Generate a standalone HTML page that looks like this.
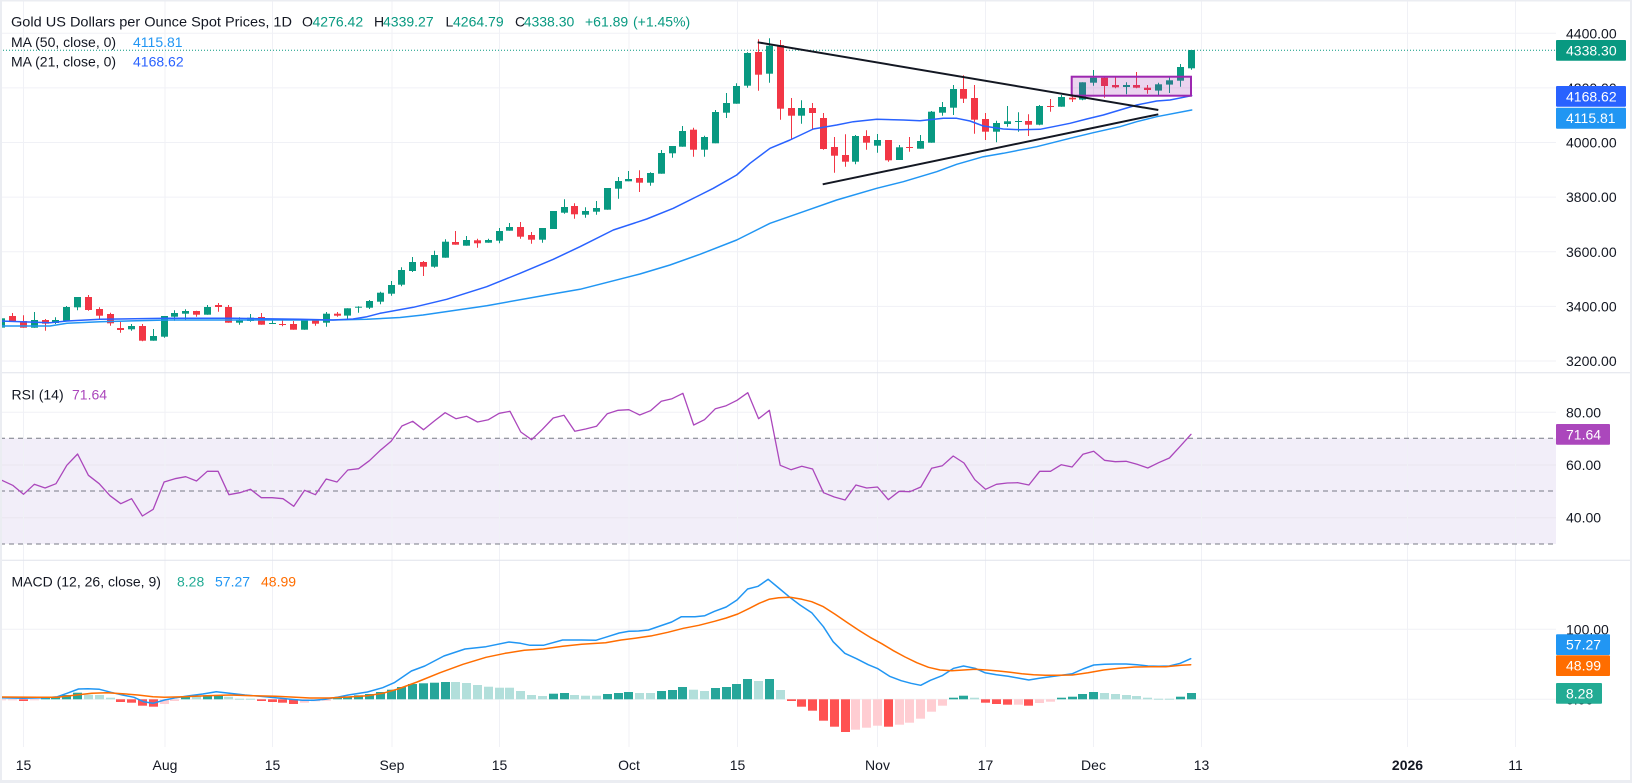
<!DOCTYPE html>
<html><head><meta charset="utf-8">
<style>
html,body{margin:0;padding:0;background:#fff;}
svg{display:block;font-family:"Liberation Sans",sans-serif;}
.t{font-size:14px;fill:#131722;}
.w{font-size:14px;fill:#ffffff;}
</style></head><body>
<svg id="c" width="1632" height="783" xmlns="http://www.w3.org/2000/svg">
<rect width="1632" height="783" fill="#fff"/>
<!-- RSI band -->
<rect x="0" y="438.3" width="1556" height="105.7" fill="#F2EEF9"/>
<!-- grid -->
<g stroke="#F0F1F6" stroke-width="1" fill="none">
<line x1="0" y1="33.3" x2="1556" y2="33.3"/>
<line x1="0" y1="87.9" x2="1556" y2="87.9"/>
<line x1="0" y1="142.5" x2="1556" y2="142.5"/>
<line x1="0" y1="197.1" x2="1556" y2="197.1"/>
<line x1="0" y1="251.8" x2="1556" y2="251.8"/>
<line x1="0" y1="306.4" x2="1556" y2="306.4"/>
<line x1="0" y1="361" x2="1556" y2="361"/>
<line x1="0" y1="412.3" x2="1556" y2="412.3"/>
<line x1="0" y1="465" x2="1556" y2="465" stroke="#E9E6F0"/>
<line x1="0" y1="517.7" x2="1556" y2="517.7" stroke="#E9E6F0"/>
<line x1="0" y1="629.3" x2="1556" y2="629.3"/>
<line x1="0" y1="699.3" x2="1556" y2="699.3"/>
<line x1="23.5" y1="0" x2="23.5" y2="747"/>
<line x1="165" y1="0" x2="165" y2="747"/>
<line x1="272.5" y1="0" x2="272.5" y2="747"/>
<line x1="392" y1="0" x2="392" y2="747"/>
<line x1="499.5" y1="0" x2="499.5" y2="747"/>
<line x1="629" y1="0" x2="629" y2="747"/>
<line x1="737.5" y1="0" x2="737.5" y2="747"/>
<line x1="877.5" y1="0" x2="877.5" y2="747"/>
<line x1="985.5" y1="0" x2="985.5" y2="747"/>
<line x1="1093.5" y1="0" x2="1093.5" y2="747"/>
<line x1="1201.5" y1="0" x2="1201.5" y2="747"/>
<line x1="1407.5" y1="0" x2="1407.5" y2="747"/>
<line x1="1515.5" y1="0" x2="1515.5" y2="747"/>
</g>
<!-- RSI dashed -->
<g stroke="#787B86" stroke-width="1" stroke-dasharray="5,4">
<line x1="0" y1="438.3" x2="1556" y2="438.3"/>
<line x1="0" y1="491" x2="1556" y2="491"/>
<line x1="0" y1="544" x2="1556" y2="544"/>
</g>
<!-- pane separators -->
<line x1="0" y1="372.7" x2="1632" y2="372.7" stroke="#E0E3EB" stroke-width="1"/>
<line x1="0" y1="560.3" x2="1632" y2="560.3" stroke="#E0E3EB" stroke-width="1"/>
<!-- price dotted line -->
<line x1="0" y1="50.2" x2="1556" y2="50.2" stroke="#089981" stroke-width="1" stroke-dasharray="1,2"/>
<g id="plot"></g>
<!-- drawings -->
<rect x="1071.7" y="76.7" width="119.3" height="19" fill="rgba(156,39,176,0.2)" stroke="#9C27B0" stroke-width="2"/>
<line x1="757.7" y1="42.3" x2="1158.3" y2="110" stroke="#131722" stroke-width="2"/>
<line x1="822.7" y1="184.3" x2="1158.3" y2="114.3" stroke="#131722" stroke-width="2"/>

<!-- legends -->
<text class="t" x="11" y="26.5" textLength="281" lengthAdjust="spacingAndGlyphs">Gold US Dollars per Ounce Spot Prices, 1D</text>
<text class="t" x="302" y="26.5">O</text><text class="t" x="312.5" y="26.5" style="fill:#089981">4276.42</text>
<text class="t" x="374" y="26.5">H</text><text class="t" x="383" y="26.5" style="fill:#089981">4339.27</text>
<text class="t" x="445.5" y="26.5">L</text><text class="t" x="453" y="26.5" style="fill:#089981">4264.79</text>
<text class="t" x="515" y="26.5">C</text><text class="t" x="523.7" y="26.5" style="fill:#089981">4338.30</text>
<text class="t" x="585" y="26.5" style="fill:#089981">+61.89</text>
<text class="t" x="633" y="26.5" style="fill:#089981">(+1.45%)</text>
<text class="t" x="11" y="47">MA (50, close, 0)</text><text class="t" x="133" y="47" style="fill:#2196F3">4115.81</text>
<text class="t" x="11" y="66.7">MA (21, close, 0)</text><text class="t" x="133" y="66.7" style="fill:#2962FF">4168.62</text>
<text class="t" x="11.5" y="399.5">RSI (14)</text><text class="t" x="72" y="399.5" style="fill:#AB47BC">71.64</text>
<text class="t" x="11.5" y="586.7">MACD (12, 26, close, 9)</text>
<text class="t" x="177" y="586.7" style="fill:#22AB94">8.28</text>
<text class="t" x="215" y="586.7" style="fill:#2196F3">57.27</text>
<text class="t" x="261" y="586.7" style="fill:#FF6D00">48.99</text>

<!-- price axis -->
<text class="t" x="1566" y="38.3">4400.00</text>
<text class="t" x="1566" y="92.9">4200.00</text>
<text class="t" x="1566" y="147.5">4000.00</text>
<text class="t" x="1566" y="202.1">3800.00</text>
<text class="t" x="1566" y="256.8">3600.00</text>
<text class="t" x="1566" y="311.4">3400.00</text>
<text class="t" x="1566" y="366">3200.00</text>
<rect x="1556" y="40" width="70" height="20.7" rx="1" fill="#089981"/>
<text class="w" x="1566" y="55.3">4338.30</text>
<rect x="1556" y="86" width="70" height="20.7" rx="1" fill="#2962FF"/>
<text class="w" x="1566" y="101.3">4168.62</text>
<rect x="1556" y="107.7" width="70" height="21" rx="1" fill="#2196F3"/>
<text class="w" x="1566" y="123">4115.81</text>

<text class="t" x="1566" y="417.3">80.00</text>
<text class="t" x="1566" y="470">60.00</text>
<text class="t" x="1566" y="522.7">40.00</text>
<rect x="1556" y="424" width="54" height="20.7" rx="1" fill="#AB47BC"/>
<text class="w" x="1566" y="439.3">71.64</text>

<text class="t" x="1566" y="634.3">100.00</text>
<text class="t" x="1566" y="704.3">0.00</text>
<rect x="1556" y="634.3" width="54" height="20.7" rx="1" fill="#2196F3"/>
<text class="w" x="1566" y="649.6">57.27</text>
<rect x="1556" y="655.3" width="54" height="20.7" rx="1" fill="#FF6D00"/>
<text class="w" x="1566" y="670.6">48.99</text>
<rect x="1556" y="683" width="46" height="20.7" rx="1" fill="#22AB94"/>
<text class="w" x="1566" y="698.3">8.28</text>

<!-- time axis -->
<g class="t" text-anchor="middle">
<text class="t" x="23.5" y="770" text-anchor="middle">15</text>
<text class="t" x="165" y="770" text-anchor="middle">Aug</text>
<text class="t" x="272.5" y="770" text-anchor="middle">15</text>
<text class="t" x="392" y="770" text-anchor="middle">Sep</text>
<text class="t" x="499.5" y="770" text-anchor="middle">15</text>
<text class="t" x="629" y="770" text-anchor="middle">Oct</text>
<text class="t" x="737.5" y="770" text-anchor="middle">15</text>
<text class="t" x="877.5" y="770" text-anchor="middle">Nov</text>
<text class="t" x="985.5" y="770" text-anchor="middle">17</text>
<text class="t" x="1093.5" y="770" text-anchor="middle">Dec</text>
<text class="t" x="1201.5" y="770" text-anchor="middle">13</text>
<text class="t" x="1407.5" y="770" text-anchor="middle" font-weight="bold">2026</text>
<text class="t" x="1515.5" y="770" text-anchor="middle">11</text>
</g>
<!-- frame -->
<rect x="0" y="0" width="1632" height="1.5" fill="#EBEDF2"/>
<rect x="0" y="0" width="2" height="783" fill="#EBEDF2"/>
<rect x="1630" y="0" width="2" height="783" fill="#EBEDF2"/>
<rect x="0" y="780" width="1632" height="3" fill="#EBEDF2"/>
</svg>
<script>
(function(){
var NS='http://www.w3.org/2000/svg';
var plot=document.getElementById('plot');
function el(t,a){var e=document.createElementNS(NS,t);for(var k in a)e.setAttribute(k,a[k]);plot.appendChild(e);return e;}
function X(i){return 1.9+10.81*i;}
var G='#089981',R='#F23645';
var A=[[1,205,233,196,233],[0,198,215,189,215],[0,213,233,196,233],[1,210,233,186,233],[0,210,221,207,242],[1,210,219,202,222],[1,171,212,168,212],[1,141,172,141,181],[0,141,180,135,182],[0,177,197,172,207],[0,192,220,188,227],[0,234,240,215,248],[1,228,238,222,242],[0,228,272,222,274],[1,258,272,237,272],[1,198,260,198,263],[1,189,200,181,212],[1,183,191,178,210],[0,183,194,182,200],[1,171,194,165,194],[0,165,171,159,185],[0,171,218,165,218],[1,209,218,202,224],[1,203,213,192,215],[0,201,224,189,224],[1,219,221,209,221],[0,222,224,210,229],[0,222,239,213,239],[1,210,239,210,239],[0,210,221,207,227],[1,191,218,186,230],[0,191,197,186,200],[1,175,197,175,207],[1,170,173,169,188],[1,153,173,150,177],[1,128,155,125,163],[1,105,131,93,137],[1,60,104,52,109],[1,36,63,21,66]];
var B=[[0,726,740,723,768],[1,705,740,692,743],[1,665,713,658,713],[0,666,674,633,674],[1,660,677,648,677],[0,661,670,656,683],[1,660,668,656,668],[1,633,662,624,670],[1,621,632,609,632],[0,621,650,606,656],[0,645,659,636,671],[1,624,659,624,668],[1,573,627,573,627],[1,561,578,538,581],[0,558,583,550,596],[1,573,584,562,593],[1,564,575,543,584],[1,504,569,504,569],[1,483,506,471,536],[1,477,484,453,484],[0,474,488,451,516],[1,459,488,457,497],[1,399,461,390,461],[1,378,400,378,413],[1,333,380,318,380],[0,329,389,323,410],[1,351,389,347,410],[1,276,370,270,370],[1,249,278,219,294],[1,198,251,190,251],[1,99,197,97,203],[0,96,164,58,212],[1,77,161,55,188]];
var C=[[0,60,251,45,284],[0,249,272,219,345],[1,249,272,226,296],[0,249,264,234,315],[0,279,372,264,374],[0,366,392,336,443],[0,390,410,328,425],[1,333,410,330,418],[0,333,353,316,374],[1,345,362,327,383],[0,345,406,345,410],[1,367,405,360,405],[0,366,369,336,380],[1,348,371,330,371],[1,260,353,258,353],[1,246,263,231,272],[1,192,248,180,270],[0,192,221,151,234],[0,219,284,180,326],[0,282,320,264,345],[1,294,320,287,352],[1,289,297,243,305],[1,288,290,262,320],[0,288,299,268,333],[1,243,299,240,301],[0,243,246,222,260],[1,216,245,210,245],[0,218,223,208,231],[1,172,224,172,226],[1,158,173,135,182],[0,158,183,155,218],[0,180,187,155,190],[1,180,186,172,208],[0,180,188,141,190],[0,188,195,180,206],[1,178,197,173,211],[1,166,179,155,204],[1,126,167,117,185],[1,75,130,75,134]];
var cs=[];
A.forEach(function(c){cs.push([c[0],250+c[1]/3,250+c[2]/3,250+c[3]/3,250+c[4]/3]);});
B.forEach(function(c){cs.push([c[0],20+c[1]/3,20+c[2]/3,20+c[3]/3,20+c[4]/3]);});
C.forEach(function(c){cs.push([c[0],25+c[1]/3,25+c[2]/3,25+c[3]/3,25+c[4]/3]);});
cs.forEach(function(c,i){
  var col=c[0]?G:R;
  var bx=Math.round(X(i)-3.5);
  el('line',{x1:bx+3.5,x2:bx+3.5,y1:c[3].toFixed(1),y2:c[4].toFixed(1),stroke:col,'stroke-width':1});
  var h=Math.max(1,c[2]-c[1]);
  el('rect',{x:bx,y:c[1].toFixed(1),width:7,height:h.toFixed(1),fill:col});
});
function pl(pts,col,w){
  el('polyline',{points:pts.map(function(p){return p[0].toFixed(1)+','+p[1].toFixed(1);}).join(' '),fill:'none',stroke:col,'stroke-width':w,'stroke-linejoin':'round','stroke-linecap':'round'});
}
var MA50=[[0,326],[50,326],[67,323.3],[100,321.7],[167,320],[233,320],[300,320],[333,320],[367,319.3],[400,317.5],[423,315],[486.7,305.7],[546.7,295],[580,289.3],[640,274],[670,265],[700,254.3],[736.7,240],[770,223.3],[803.3,211.7],[836.7,200],[876.7,188.3],[903.3,181.7],[936.7,171.7],[956.7,164.3],[983.3,156.7],[1003.3,153.3],[1036.7,146.7],[1070,138.3],[1093.3,132.7],[1120,126.7],[1136.7,121.7],[1156.7,116.7],[1191.7,110]];
var MA21=[[0,321],[50,322.7],[67,321],[100,319.3],[167,318.3],[233,318.3],[300,319.3],[333,320],[353,319],[367,316.7],[380,313.3],[413.3,307.3],[446.7,299.3],[486.7,286.7],[520,273.3],[553.3,259.3],[580,246.7],[613.3,230],[646.7,219],[673.3,208.3],[700,195],[713.3,188.3],[736.7,175],[750,163.3],[770,148.3],[790,140],[813.3,129],[836.7,125],[853.3,121.7],[876.7,119.3],[903.3,120],[920,120.7],[943.3,118.3],[956.7,118.3],[970,121],[983.3,126],[1003.3,129],[1020,129.7],[1040,129.3],[1053.3,126.7],[1070,123.3],[1086.7,119],[1103.3,115],[1120,110],[1136.7,105],[1156.7,101],[1170,100],[1191.7,95.7]];
pl(MA50,'#2196F3',1.5);
pl(MA21,'#2962FF',1.5);
// RSI
var R1=[325,340,367,337,348,335,280,246,310,335,371,395,380,432,412,330,320,314,327,298,298,368,362,352,377,377,380,403,355,368,321,330,294,290,266,235,208,162,148,173,147,122,140,133,150,143,124,118,180,203,172,138,130,178,171];
var R2=[163,125,115,113,129,116,88,80,64,159,143,110,101,85,62,140,115,280,293,283,291,362,375,384,339,348,345,383,358,359,345,289,281,252,273,323,352,337,333,332,339,298,298,278,285,247,238,265,269,268,277,288,272,258,223,187];
var rs=R1.concat(R2).map(function(v,i){return [X(i),372+v/3];});
pl(rs,'#AB47BC',1.3);
// MACD hist
var H=[421,421,423,420,414,412,405,398,404,405,413,426,428,437,440,432,423,408,408,406,405,410,416,416,423,426,428,432,428,424,422,414,410,406,402,396,389,381,372,370,368,366,366,369,375,380,383,383,393,405,408,401,399,405,407,
407,402,399,396,399,399,393,390,381,389,393,384,381,372,357,363,357,390,423,440,452,482,500,516,509,503,497,500,494,488,476,455,437,413,407,413,428,432,434,434,437,429,425,413,410,402,396,399,402,405,408,413,416,416,410,399];
var base=699.3, prev=null;
H.forEach(function(z,i){
  var v=418-z; var p=(prev===null)?v:prev; var col;
  if(v>=0) col=(v>p)?'#26A69A':'#B2DFDB'; else col=(v<p)?'#FF5252':'#FFCDD2';
  prev=v;
  var y=560+z/3; var bx=Math.round(X(i)-4.5);
  var top=Math.min(y,base), h=Math.max(1,Math.abs(y-base));
  el('rect',{x:bx,y:top.toFixed(1),width:9,height:h.toFixed(1),fill:col});
});
var MB=[[0,697.7],[23,698.3],[45.9,697.7],[57.4,696.7],[67,693.3],[78.5,689],[88,688.7],[99.5,689.3],[111,692.3],[122.5,695],[134,697.3],[143.5,701.7],[153,703.3],[164.6,700],[176,697.7],[187.5,696],[202.8,694],[216.2,691.7],[229.6,693.3],[245,695],[260.2,696.3],[275.5,697.7],[290.9,699.3],[302.3,700.3],[313.8,700.3],[325.3,699.3],[336.8,697.3],[348.3,695],[367.4,692],[382.7,687.7],[394.2,682.7],[411.4,671],[424.8,666],[443.9,656],[465,649],[486,646.7],[509,642],[520.5,643.3],[530,645.3],[543.4,645.3],[562.6,640],[581.7,640],[595.8,640.3],[607.5,636.7],[619.2,633],[628.9,631.3],[638.6,631],[648.4,630],[660,626],[671.7,622],[681.4,616.7],[695,616.7],[704.8,615.7],[714.5,611.3],[726.2,607],[737,600],[747.6,589],[758.1,586.3],[768.2,579.3],[778.7,588],[790.3,597.7],[800,605],[811.7,612.7],[823.4,626.7],[833.1,641.7],[844.8,653.3],[856.5,658.7],[868.2,664.7],[877.9,668.7],[889.6,676.3],[901.2,680.7],[911,683.3],[920.7,685.3],[930.4,680.3],[942.1,675.7],[953.7,668.3],[963.5,666],[975.1,668.3],[984.9,672.7],[996.5,674.7],[1008.2,676.3],[1017.9,678],[1028.8,680],[1039.3,678.3],[1050.2,676.7],[1061.5,675.3],[1072.4,673.7],[1082.9,669],[1093.8,665],[1104.7,664.3],[1115.2,664],[1126.1,664],[1137,664.7],[1147.9,666],[1158.7,666.3],[1169.3,666],[1180.2,663.3],[1190.7,658.7]];
var MO=[[0,697],[38.3,697.3],[57.4,697.3],[76.5,695],[91.8,693.3],[107.2,692.7],[122.5,693.7],[137.8,695],[153,696.7],[164.6,697.3],[183.7,696.7],[206.7,695.7],[229.6,695],[252.6,695.7],[275.5,696.3],[290.9,697],[310,698],[329,698],[348.3,697],[367.4,695.7],[382.7,693.3],[398,689],[417.1,682],[440.1,672.7],[463,664.3],[486,657.3],[505.2,653.3],[524.3,650.3],[543.4,649],[562.6,646.3],[581.7,644.3],[605.6,642.7],[621.1,640],[636.7,638],[652.2,635.7],[667.8,632.3],[683.4,628.3],[698.9,625.3],[714.5,621.3],[726.2,618],[737.8,614],[749.5,608.3],[759.2,603.3],[769,599.3],[778.7,597.7],[790.3,597.3],[802,599.3],[811.7,601.7],[823.4,606.7],[835.1,614.3],[846.8,622.3],[858.4,630],[870.1,637.3],[881.8,643.7],[893.4,650.7],[905.1,657],[916.8,662.7],[928.5,667.3],[940.1,670],[951.8,670.7],[963.5,670],[975.1,669.3],[986.8,670],[998.5,671],[1010.2,672.3],[1021.8,673.7],[1033.5,674.7],[1045.2,675.3],[1056.8,675.3],[1072.4,675],[1088.1,672.7],[1103.6,670],[1119.1,668.3],[1134.7,667],[1150.2,666.7],[1165.8,666.7],[1181.3,665.3],[1190.7,664.7]];
pl(MB,'#2196F3',1.5);
pl(MO,'#FF6D00',1.5);
})();
</script>
</body></html>
